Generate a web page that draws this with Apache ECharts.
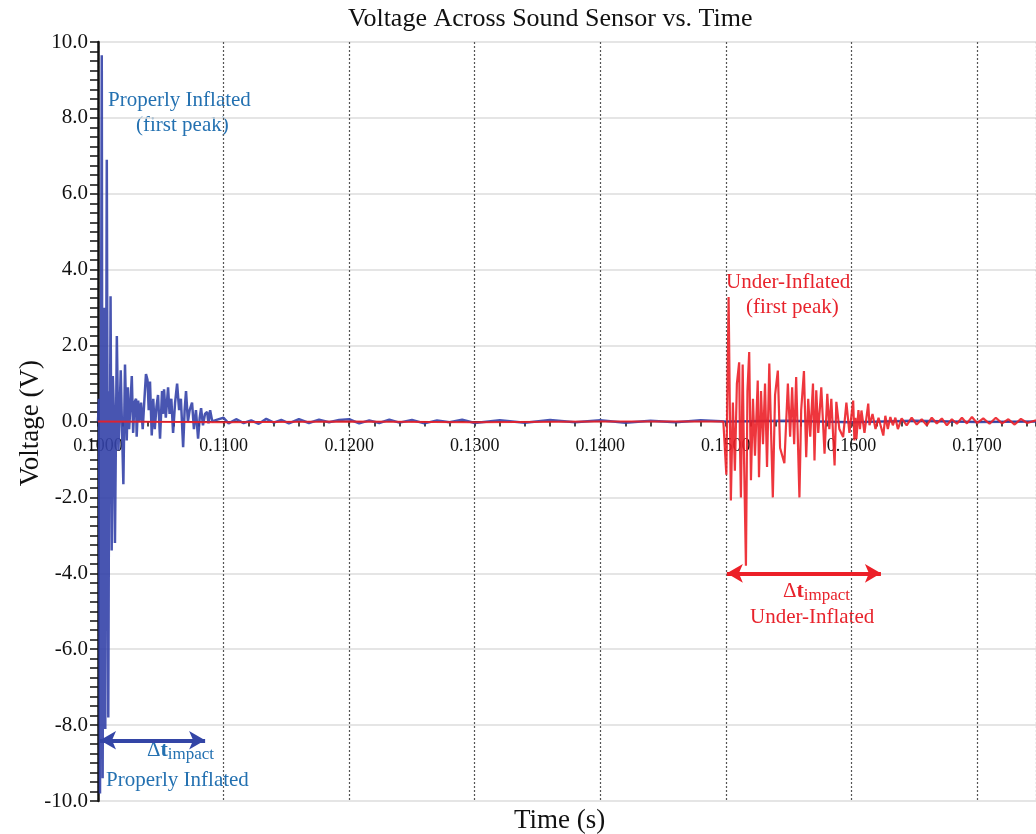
<!DOCTYPE html>
<html>
<head>
<meta charset="utf-8">
<script src="https://cdn.jsdelivr.net/npm/echarts@6/dist/echarts.min.js"></script>
<style>
  html, body { margin: 0; padding: 0; background: #fff; }
  #chart { width: 1036px; height: 834px; }
</style>
</head>
<body>
<div id="chart"></div>
<script>
// properly inflated ball (blue trace)
var blueTime = [
  0.10000, 0.10008, 0.10016, 0.10030, 0.10037, 0.10048, 0.10058, 0.10070, 0.10082, 0.10090,
  0.10094, 0.10100, 0.10109, 0.10118, 0.10126, 0.10135, 0.10150, 0.10163, 0.10172, 0.10181,
  0.10192, 0.10202, 0.10215, 0.10229, 0.10238, 0.10248, 0.10258, 0.10269, 0.10280, 0.10290,
  0.10303, 0.10308, 0.10320, 0.10330, 0.10343, 0.10356, 0.10370, 0.10382, 0.10394, 0.10404,
  0.10414, 0.10428, 0.10440, 0.10452, 0.10466, 0.10478, 0.10494, 0.10510, 0.10518, 0.10526,
  0.10540, 0.10558, 0.10570, 0.10584, 0.10598, 0.10614, 0.10630, 0.10646, 0.10660, 0.10678,
  0.10690, 0.10701, 0.10716, 0.10730, 0.10749, 0.10764, 0.10780, 0.10797, 0.10810, 0.10821,
  0.10836, 0.10852, 0.10869, 0.10880, 0.10893, 0.10910,
  0.1095, 0.1100, 0.1104, 0.1110, 0.1116, 0.1122, 0.1128, 0.1134, 0.1140, 0.1146,
  0.1152, 0.1160, 0.1168, 0.1176, 0.1184, 0.1192, 0.1200, 0.1208, 0.1216, 0.1224,
  0.1232, 0.1240, 0.1250, 0.1260, 0.1270, 0.1280, 0.1290, 0.1300, 0.1320, 0.1340,
  0.1360, 0.1380, 0.1400, 0.1420, 0.1440, 0.1460, 0.1480, 0.1500, 0.1550, 0.1600,
  0.1650, 0.1700, 0.1747
];
var blueVolt = [
  0, 0.6, -9.8, 9.65, -9.4, 3.0, -8.1, 6.9, -7.8, 0.8,
  -1.6, 3.3, -3.4, 1.2, 0.3, -3.2, 2.25, -0.76, 0.2, 1.35,
  -0.3, -1.65, 1.5, -0.5, 0.9, -0.2, 0.4, 1.2, -0.3, 0.5,
  0.6, -0.4, 0.55, 0.0, 0.5, -0.2, 0.6, 1.25, 1.1, 0.3,
  1.05, -0.37, 0.6, -0.2, 0.4, 0.7, -0.45, 0.8, 0.2, 0.85,
  0.1, 0.9, 0.2, 0.6, -0.3, 0.5, 1.0, 0.3, 0.6, -0.68,
  0.3, 0.8, 0.0, 0.3, 0.5, -0.2, 0.3, -0.45, 0.1, 0.35,
  -0.1, 0.2, 0.25, -0.05, 0.3, 0.0,
  0.05, 0.1, -0.05, 0.06, -0.04, 0.03, -0.06, 0.07, -0.03, 0.04,
  -0.05, 0.06, -0.04, 0.05, -0.02, 0.04, 0.06, -0.05, 0.03, -0.04,
  0.05, -0.03, 0.04, -0.05, 0.03, -0.02, 0.05, -0.04, 0.03, -0.03,
  0.04, -0.02, 0.03, -0.03, 0.02, -0.02, 0.03, 0.0, 0.02, -0.02,
  0.02, -0.01, 0.0
];

// under-inflated ball (red trace)
var redTime = [
  0.1000, 0.1100, 0.1200, 0.1300, 0.1400, 0.1498,
  0.15004, 0.15022, 0.15040, 0.15056, 0.15072, 0.15088, 0.15106, 0.15112, 0.15120, 0.15134,
  0.15144, 0.15160, 0.15172, 0.15186, 0.15200, 0.15216, 0.15232, 0.15254, 0.15264, 0.15280,
  0.15296, 0.15312, 0.15328, 0.15346, 0.15374, 0.15392, 0.15414, 0.15432, 0.15466, 0.15494,
  0.15512, 0.15528, 0.15544, 0.15560, 0.15586, 0.15600, 0.15622, 0.15640, 0.15656, 0.15672,
  0.15694, 0.15706, 0.15720, 0.15736, 0.15760, 0.15786, 0.15808, 0.15824, 0.15840, 0.15866,
  0.15880, 0.15904, 0.15934, 0.15960, 0.15984, 0.16014, 0.16024, 0.16032, 0.16040, 0.16056,
  0.16068, 0.16080, 0.16104, 0.16134, 0.16144, 0.16168, 0.16192, 0.16216,
  0.16232, 0.16254, 0.16270, 0.16290, 0.16310, 0.16330, 0.16350, 0.16370, 0.16400, 0.16440,
  0.16480, 0.16520, 0.16560, 0.16600, 0.16640, 0.16680, 0.16720, 0.16760, 0.16800, 0.16840,
  0.16880, 0.16920, 0.16960, 0.17000, 0.17050, 0.17100, 0.17150, 0.17200, 0.17250, 0.17300,
  0.17350, 0.17400, 0.17470
];
var redVolt = [
  0.0, -0.02, 0.0, -0.02, 0.0, 0.0,
  -1.4, 3.28, -2.08, 0.5, -1.3, 1.0, 1.56, -0.5, -2.0, 1.5,
  -0.8, -3.8, 0.8, 1.83, -1.55, 0.6, -0.9, 1.08, -1.47, 0.8,
  -0.6, 1.0, -1.2, 1.53, -2.0, 0.7, 1.34, -0.7, -1.1, 1.0,
  -0.4, 0.9, -0.6, 1.17, -2.0, 0.3, 1.33, -0.94, 0.6, -0.4,
  1.0, -1.03, 0.82, -0.3, 0.9, -0.85, 0.73, -0.2, 0.6, -1.16,
  0.52, -0.2, -0.41, 0.5, -0.3, 0.55, -0.5, 0.1, -0.46, 0.3,
  -0.2, 0.29, -0.3, 0.47, -0.1, 0.2, -0.2, 0.1,
  -0.1, -0.37, 0.15, -0.2, 0.12, -0.1, 0.1, -0.2, 0.08, -0.1,
  0.1, -0.08, 0.06, -0.1, 0.1, -0.05, 0.08, -0.1, 0.06, -0.06,
  0.1, -0.05, 0.12, -0.04, 0.08, -0.06, 0.1, -0.05, 0.06, -0.08,
  0.07, -0.04, 0.03
];

// impact duration arrows: [start time, end time, voltage level]
var blueArrow = [0.10016, 0.10853, -8.4];
var redArrow = [0.15008, 0.16235, -4.0];

var xTicks = { min: 0.1, max: 0.1747, interval: 0.01 };
var yTicks = { min: -10, max: 10, interval: 2 };

function zip(a, b) {
  return a.map(function (t, i) { return [t, b[i]]; });
}

var serif = "'Liberation Serif', 'DejaVu Serif', serif";
var blueText = '#2471b1';
var redText = '#e8232c';

var chart = echarts.init(document.getElementById('chart'));

// plot area: top 42, bottom 801 -> the zero line sits halfway
var gridTop = 42, gridBottom = 33, plotH = 834 - gridTop - gridBottom;
var zeroShift = -plotH / 2;

var option = {
  animation: false,
  grid: { left: 98, right: 0, top: gridTop, bottom: gridBottom },
  xAxis: {
    type: 'value', position: 'bottom', offset: zeroShift,
    min: xTicks.min, max: xTicks.max, interval: xTicks.interval,
    axisLine: { onZero: false, lineStyle: { color: '#222', width: 1 } },
    axisTick: { show: true, length: 5, lineStyle: { color: '#111', width: 1.5 } },
    minorTick: { show: true, splitNumber: 5, length: 5, lineStyle: { color: '#111', width: 1.5 } },
    axisLabel: {
      margin: 16, fontFamily: serif, fontSize: 18, color: '#111', showMaxLabel: false,
      formatter: function (v) { return v.toFixed(4); }
    },
    splitLine: { show: true, lineStyle: { color: '#555', type: [2, 2], width: 1.2 } }
  },
  yAxis: {
    type: 'value',
    min: yTicks.min, max: yTicks.max, interval: yTicks.interval,
    axisLine: { show: true, lineStyle: { color: '#111', width: 2.5 } },
    axisTick: { show: true, length: 8, lineStyle: { color: '#111', width: 1.5 } },
    minorTick: { show: true, splitNumber: 8, length: 8, lineStyle: { color: '#111', width: 1.5 } },
    axisLabel: {
      margin: 10, fontFamily: serif, fontSize: 21, color: '#111',
      formatter: function (v) { return v.toFixed(1); }
    },
    splitLine: { show: true, lineStyle: { color: '#dcdcdc', width: 1.5 } }
  },
  series: [
    {
      name: 'Properly Inflated', type: 'line', data: zip(blueTime, blueVolt),
      showSymbol: false, z: 3,
      lineStyle: { color: 'rgba(52,66,168,0.9)', width: 2.5 },
      markLine: {
        silent: true, symbol: ['arrow', 'arrow'], symbolSize: [14, 16],
        label: { show: false },
        lineStyle: { color: '#3345a6', width: 4, type: 'solid' },
        data: [[{ coord: [blueArrow[0], blueArrow[2]] }, { coord: [blueArrow[1], blueArrow[2]] }]]
      }
    },
    {
      name: 'Under-Inflated', type: 'line', data: zip(redTime, redVolt),
      showSymbol: false, z: 4,
      lineStyle: { color: 'rgba(236,32,40,0.9)', width: 2.2 },
      markLine: {
        silent: true, symbol: ['arrow', 'arrow'], symbolSize: [14, 16],
        label: { show: false },
        lineStyle: { color: '#ec2028', width: 4, type: 'solid' },
        data: [[{ coord: [redArrow[0], redArrow[2]] }, { coord: [redArrow[1], redArrow[2]] }]]
      }
    }
  ],
  graphic: [
    { type: 'text', left: 348, top: 6, style: { text: 'Voltage Across Sound Sensor vs. Time', font: '26px ' + serif, fill: '#111' } },
    { type: 'text', left: 514, top: 807, style: { text: 'Time (s)', font: '27px ' + serif, fill: '#111' } },
    { type: 'text', left: 17, top: 360, rotation: Math.PI / 2, style: { text: 'Voltage (V)', font: '27px ' + serif, fill: '#111' } },
    { type: 'text', left: 108, top: 90, style: { text: 'Properly Inflated', font: '21px ' + serif, fill: blueText } },
    { type: 'text', left: 136, top: 115, style: { text: '(first peak)', font: '21px ' + serif, fill: blueText } },
    { type: 'text', left: 726, top: 272, style: { text: 'Under-Inflated', font: '21px ' + serif, fill: redText } },
    { type: 'text', left: 746, top: 297, style: { text: '(first peak)', font: '21px ' + serif, fill: redText } },
    { type: 'text', left: 106, top: 770, style: { text: 'Properly Inflated', font: '21px ' + serif, fill: blueText } },
    { type: 'text', left: 750, top: 607, style: { text: 'Under-Inflated', font: '21px ' + serif, fill: redText } },
    { type: 'text', left: 147, top: 739, style: { text: '{a|Δ}{t|t}{s|impact}', rich: {
        a: { font: '21px ' + serif, fill: blueText },
        t: { font: 'bold 22px ' + serif, fill: blueText },
        s: { font: '17px ' + serif, fill: blueText, padding: [9, 0, 0, 0] } } } },
    { type: 'text', left: 783, top: 580, style: { text: '{a|Δ}{t|t}{s|impact}', rich: {
        a: { font: '21px ' + serif, fill: redText },
        t: { font: 'bold 22px ' + serif, fill: redText },
        s: { font: '17px ' + serif, fill: redText, padding: [9, 0, 0, 0] } } } }
  ]
};

chart.setOption(option);
</script>
</body>
</html>
